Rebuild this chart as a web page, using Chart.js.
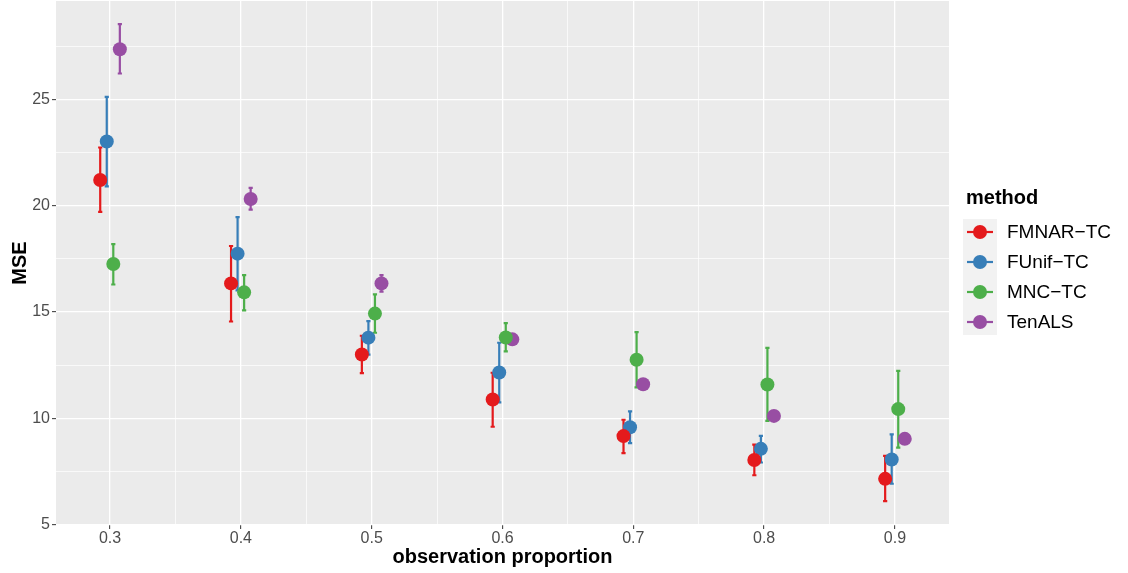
<!DOCTYPE html>
<html>
<head>
<meta charset="utf-8">
<title>MSE vs observation proportion</title>
<script src="https://cdn.jsdelivr.net/npm/chart.js@4.4.1/dist/chart.umd.min.js"></script>
<style>
  body{margin:0;background:#fff;}
  canvas{display:block;}
</style>
</head>
<body>
<canvas id="myChart" width="1128" height="573"></canvas>
<script>
// data
const proportions=[0.3,0.4,0.5,0.6,0.7,0.8,0.9];
const methods=["FMNAR\u2212TC","FUnif\u2212TC","MNC\u2212TC","TenALS"];

const fmnarMean=[21.2,16.34,13.0,10.88,9.16,8.04,7.15];
const fmnarLow=[19.7,14.55,12.12,9.6,8.36,7.32,6.1];
const fmnarHigh=[22.73,18.1,13.88,12.14,9.93,8.76,8.23];

const funifMean=[23.01,17.74,13.79,12.15,9.58,8.56,8.06];
const funifLow=[20.9,16.01,12.99,10.75,8.83,7.92,6.92];
const funifHigh=[25.11,19.46,14.57,13.55,10.32,9.17,9.24];

const mncMean=[17.25,15.92,14.92,13.8,12.75,11.59,10.43];
const mncLow=[16.29,15.07,14.02,13.14,11.45,9.88,8.62];
const mncHigh=[18.19,16.73,15.82,14.47,14.05,13.31,12.23];

const tenalsMean=[27.35,20.31,16.34,13.71,11.6,10.11,9.03];
const tenalsLow=[26.21,19.81,15.95,13.55,11.45,9.95,8.88];
const tenalsHigh=[28.53,20.83,16.73,13.87,11.75,10.27,9.18];

const xMajor=[0.3,0.4,0.5,0.6,0.7,0.8,0.9];
const xMinor=[0.35,0.45,0.55,0.65,0.75,0.85];
const yMajor=[5,10,15,20,25];
const yMinor=[7.5,12.5,17.5,22.5,27.5];

const colors=["#E41A1C","#377EB8","#4DAF4A","#984EA3"];
const means=[fmnarMean,funifMean,mncMean,tenalsMean];
const lows=[fmnarLow,funifLow,mncLow,tenalsLow];
const highs=[fmnarHigh,funifHigh,mncHigh,tenalsHigh];

// position_dodge offsets (x units)
const dodge=[-0.0075,-0.0025,0.0025,0.0075];
const capHalf=0.0016;

function isMajor(v,list){
  return list.some(m=>Math.abs(m-v)<1e-6);
}

const datasets=methods.map((name,i)=>({
  label:name,
  data:proportions.map((p,j)=>({x:p+dodge[i],y:means[i][j]})),
  backgroundColor:colors[i],
  borderColor:colors[i],
  borderWidth:0,
  pointRadius:7,
  pointHoverRadius:7,
  showLine:false,
  clip:false
}));

// grey panel
const panelBg={
  id:'panelBg',
  beforeDraw(chart){
    const c=chart.ctx, a=chart.chartArea;
    c.save();
    c.fillStyle='#fff';
    c.fillRect(0,0,chart.width,chart.height);
    c.fillStyle='#EBEBEB';
    c.fillRect(a.left,a.top,a.right-a.left,a.bottom-a.top);
    c.restore();
  }
};

// error bars, drawn under the points
const errorBars={
  id:'errorBars',
  beforeDatasetsDraw(chart){
    const c=chart.ctx, xs=chart.scales.x, ys=chart.scales.y;
    c.save();
    c.lineWidth=2.2;
    c.lineCap='butt';
    for(let i=0;i<methods.length;i++){
      c.strokeStyle=colors[i];
      for(let j=0;j<proportions.length;j++){
        const x=proportions[j]+dodge[i];
        const px=xs.getPixelForValue(x);
        const x1=xs.getPixelForValue(x-capHalf), x2=xs.getPixelForValue(x+capHalf);
        const yl=ys.getPixelForValue(lows[i][j]), yh=ys.getPixelForValue(highs[i][j]);
        c.beginPath();
        c.moveTo(px,yl);c.lineTo(px,yh);
        c.moveTo(x1,yl);c.lineTo(x2,yl);
        c.moveTo(x1,yh);c.lineTo(x2,yh);
        c.stroke();
      }
    }
    c.restore();
  }
};

// ggplot style legend on the right
const sideLegend={
  id:'sideLegend',
  afterDraw(chart){
    const c=chart.ctx;
    const left=chart.chartArea.right+14;
    const rowH=30, firstY=232;
    c.save();
    c.fillStyle='#000';
    c.font='bold 20px "Liberation Sans", Arial, sans-serif';
    c.textBaseline='middle';
    c.textAlign='left';
    c.fillText('method',left+3,198);
    c.fillStyle='#F2F2F2';
    c.fillRect(left,firstY-rowH/2+2,34,rowH*methods.length-4);
    c.font='19px "Liberation Sans", Arial, sans-serif';
    methods.forEach((m,i)=>{
      const cy=firstY+i*rowH;
      c.strokeStyle=colors[i];
      c.lineWidth=2.2;
      c.beginPath();
      c.moveTo(left+4,cy);c.lineTo(left+30,cy);
      c.stroke();
      c.fillStyle=colors[i];
      c.beginPath();
      c.arc(left+17,cy,7,0,Math.PI*2);
      c.fill();
      c.fillStyle='#000';
      c.fillText(m,left+44,cy+1);
    });
    c.restore();
  }
};

const tickFont={family:'"Liberation Sans", Arial, sans-serif',size:16};
const titleFont={family:'"Liberation Sans", Arial, sans-serif',size:20,weight:'bold'};

let myChart=document.getElementById("myChart").getContext('2d');
let chart=new Chart(myChart,{
  type:'scatter',
  data:{datasets:datasets},
  options:{
    responsive:false,
    animation:false,
    devicePixelRatio:1,
    layout:{autoPadding:false,padding:{top:1,right:179,left:0,bottom:0}},
    plugins:{legend:{display:false},tooltip:{enabled:false}},
    scales:{
      x:{
        type:'linear',
        min:0.2587,
        max:0.9413,
        afterBuildTicks:s=>{s.ticks=xMajor.concat(xMinor).sort((a,b)=>a-b).map(v=>({value:v}));},
        afterFit:s=>{s.height=48;s.paddingLeft=0;s.paddingRight=0;},
        border:{display:false},
        grid:{
          color:'#fff',
          lineWidth:ctx=>isMajor(ctx.tick.value,xMajor)?1.3:0.7,
          tickColor:ctx=>isMajor(ctx.tick.value,xMajor)?'#333':'rgba(0,0,0,0)',
          tickLength:4,
          tickWidth:1
        },
        ticks:{
          autoSkip:false,maxRotation:0,padding:0,
          color:'#4D4D4D',font:tickFont,
          callback:v=>isMajor(v,xMajor)?v.toFixed(1):''
        },
        title:{display:true,text:'observation proportion',color:'#000',font:titleFont,padding:{top:0,bottom:4}}
      },
      y:{
        type:'linear',
        min:4.98,
        max:29.62,
        afterBuildTicks:s=>{s.ticks=yMajor.concat(yMinor).sort((a,b)=>a-b).map(v=>({value:v}));},
        afterFit:s=>{s.width=56;s.paddingTop=0;s.paddingBottom=0;},
        border:{display:false},
        grid:{
          color:'#fff',
          lineWidth:ctx=>isMajor(ctx.tick.value,yMajor)?1.3:0.7,
          tickColor:ctx=>isMajor(ctx.tick.value,yMajor)?'#333':'rgba(0,0,0,0)',
          tickLength:4,
          tickWidth:1
        },
        ticks:{
          autoSkip:false,padding:2,
          color:'#4D4D4D',font:tickFont,
          callback:v=>isMajor(v,yMajor)?String(v):''
        },
        title:{display:true,text:'MSE',color:'#000',font:titleFont,padding:{top:8,bottom:0}}
      }
    }
  },
  plugins:[panelBg,errorBars,sideLegend]
});
</script>
</body>
</html>
